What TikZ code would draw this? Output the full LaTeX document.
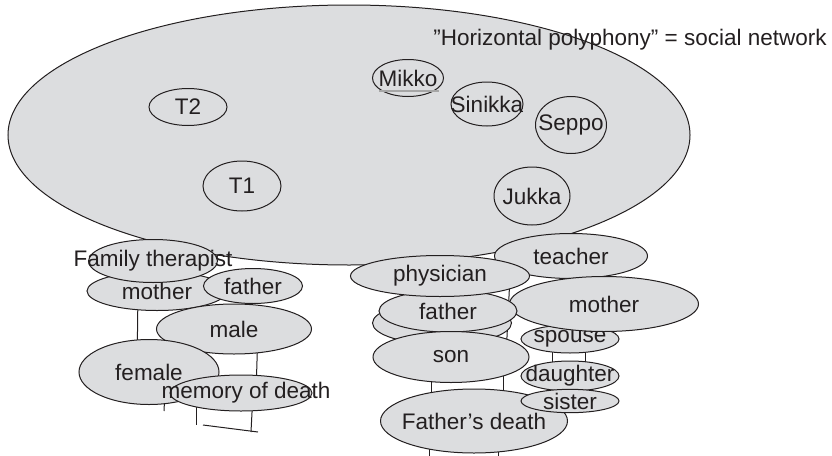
\documentclass[tikz,border=0pt]{standalone}
\usepackage{fontspec}
\setmainfont{Liberation Sans}
\usetikzlibrary{shapes.geometric, backgrounds}
\definecolor{bubblegray}{RGB}{220,221,223}
\definecolor{ink}{RGB}{35,31,32}
\newcommand{\nw}[1]{\makebox[0pt]{#1}}

\begin{document}
\begin{tikzpicture}[
    x=1pt, y=-1pt,
    network/.style={ellipse, draw=ink, fill=bubblegray, line width=1pt, inner sep=0pt},
    bub/.style={ellipse, draw=ink, fill=bubblegray, line width=1pt, inner sep=0pt, text=ink, font=\fontsize{22.5}{27}\selectfont},
    caption/.style={inner sep=0pt, text=ink, font=\fontsize{22.5}{27}\selectfont},
    link/.style={draw=ink, line width=1pt}
]
\useasboundingbox (0,0) rectangle (832,455);

% Social network
\node[network, minimum width=682, minimum height=260] (net) at (349,135) {};
\node[caption] (title) at (630,40) {”Horizontal polyphony” = social network};
\node[bub, minimum width=78, minimum height=37] (t2) at (188,107) {\nw{T2}};
\node[bub, minimum width=78, minimum height=50] (t1) at (242,186) {\nw{T1}};
\node[bub, minimum width=71, minimum height=37] (mikko) at (408,78) {\nw{Mikko}};
\draw[gray!70, line width=1.2pt] ([shift={(-29,13)}]mikko.center) -- ([shift={(31,13)}]mikko.center);
\node[bub, minimum width=72, minimum height=44] (sinikka) at (487,104) {\nw{Sinikka}};
\node[bub, minimum width=71, minimum height=57] (seppo) at (571,125) {\nw{Seppo}};
\node[bub, minimum width=76, minimum height=58] (jukka) at (532,196) {\nw{Jukka}};

% Therapist
\node[bub, minimum width=140, minimum height=39] (motherL) at (157,291) {\nw{mother}};
\node[bub, minimum width=129, minimum height=43] (famther) at (153,261) {\nw{Family therapist}};
\node[bub, minimum width=99, minimum height=35] (fatherL) at (253,286) {\nw{father}};
\node[bub, minimum width=155, minimum height=50] (male) at (234,329) {\nw{male}};
\node[bub, minimum width=140, minimum height=65] (female) at (149,372) {\nw{female}};
\node[bub, minimum width=142, minimum height=36] (memory) at (241,393) {\nw{\hspace{10pt}memory of death}};

% Client
\node[bub, minimum width=153, minimum height=45] (teacher) at (571,256) {\nw{teacher}};
\node[bub, minimum width=98, minimum height=28] (spouse) at (570,339) {\nw{spouse}};
\node[bub, minimum width=189, minimum height=55] (motherR) at (604,304) {\nw{mother}};
\node[bub, minimum width=139, minimum height=43] (fatherBack) at (442,323) {};
\node[bub, minimum width=138, minimum height=42] (fatherR) at (448,311) {\nw{father}};
\node[bub, minimum width=179, minimum height=41] (physician) at (440,276) {\nw{physician}};
\node[bub, minimum width=156, minimum height=51] (son) at (451,357) {\nw{son}};
\node[bub, minimum width=187, minimum height=64] (fdeath) at (474,421) {\nw{Father’s death}};
\node[bub, minimum width=98, minimum height=30] (daughter) at (570,376) {\nw{daughter}};
\node[bub, minimum width=98, minimum height=23] (sister) at (570,401) {\nw{sister}};

% Free ends
\coordinate (mdA) at (196,425);
\coordinate (mdB) at (251,432);
\coordinate (cutL) at (203,425);
\coordinate (cutR) at (258,432);
\coordinate (femTick) at (164,411);
\coordinate (fdA) at (429,456);
\coordinate (fdB) at (498,456);

% Lines
\begin{pgfonlayer}{background}
\draw[link] ([xshift=-19]motherL.center) -- ([xshift=-12]female.center);
\draw[link] ([xshift=24]male.center) -- ([xshift=15]memory.center);
\draw[link] ([xshift=-45]memory.center) -- (mdA);
\draw[link] ([xshift=12]memory.center) -- (mdB);
\draw[link] (cutL) -- (cutR);
\draw[link] ([xshift=17]female.center) -- (femTick);
\draw[link] ([xshift=70]physician.center) -- ([xshift=55]son.center);
\draw[link] ([xshift=-20]son.center) -- ([xshift=-43]fdeath.center);
\draw[link] ([xshift=52]son.center) -- ([xshift=29]fdeath.center);
\draw[link] ([xshift=-18]spouse.center) -- ([xshift=-18]daughter.center);
\draw[link] ([xshift=15]spouse.center) -- ([xshift=15]daughter.center);
\draw[link] ([xshift=-45]fdeath.center) -- (fdA);
\draw[link] ([xshift=24]fdeath.center) -- (fdB);
\end{pgfonlayer}
\end{tikzpicture}
\end{document}
